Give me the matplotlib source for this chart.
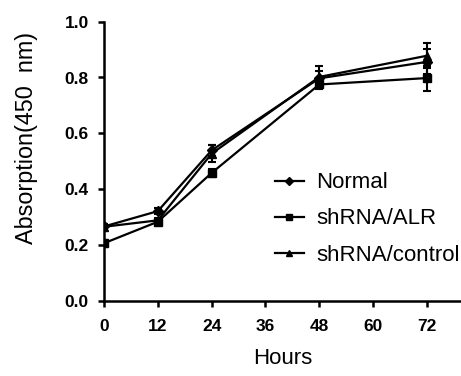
import matplotlib
matplotlib.use("Agg")
import matplotlib.pyplot as plt
from matplotlib.lines import Line2D

hours = [0, 12, 24, 48, 72]
normal = [0.266, 0.321, 0.539, 0.797, 0.856]
normal_err = [0.010, 0.010, 0.020, 0.025, 0.045]
alr = [0.206, 0.283, 0.458, 0.775, 0.798]
alr_err = [0.012, 0.010, 0.015, 0.015, 0.045]
control = [0.265, 0.288, 0.527, 0.802, 0.878]
control_err = [0.010, 0.010, 0.030, 0.040, 0.045]
xticks = [0, 12, 24, 36, 48, 60, 72]
yticks = [0.0, 0.2, 0.4, 0.6, 0.8, 1.0]
names = ["Normal", "shRNA/ALR", "shRNA/control"]

plt.rcParams['font.family'] = ['Liberation Sans', 'DejaVu Sans']

fig = plt.figure(figsize=(4.61, 3.76), dpi=100)
ax = fig.add_axes([104/461, 75.3/376, 357/461, 279/376])

styles = [("D", 5), ("s", 5.5), ("^", 6)]
handles = []
for name, vals, err, (m, ms) in zip(names, [normal, alr, control],
                                    [normal_err, alr_err, control_err], styles):
    ax.errorbar(hours, vals, yerr=err, color="black", lw=1.6, marker=m, ms=ms,
                capsize=3, capthick=1.5, elinewidth=1.5)
    handles.append(Line2D([], [], color="black", lw=1.6, marker=m, ms=4))

ax.set_xlim(0, 79.6)
ax.set_ylim(0, 1.0)
ax.set_xticks(xticks)
ax.set_yticks(yticks)
ax.set_yticklabels([f"{v:.1f}" for v in yticks])
for s in ["top", "right"]:
    ax.spines[s].set_visible(False)
for s in ["left", "bottom"]:
    ax.spines[s].set_linewidth(1.8)
ax.tick_params(direction="out", length=4.5, width=1.8, labelsize=12.5)
ax.tick_params(axis="x", pad=9)
ax.tick_params(axis="y", pad=6.5)
for lab in ax.get_xticklabels() + ax.get_yticklabels():
    lab.set_fontweight("bold")

ax.set_xlabel("Hours", fontsize=16, labelpad=10)
ax.set_ylabel("Absorption(450  nm)", fontsize=16.8)
ax.yaxis.set_label_coords(-0.185, 0.583)

ax.legend(handles, names, loc="center left", bbox_to_anchor=(0.479, 0.293),
          frameon=False, fontsize=16, handlelength=1.3, handletextpad=0.55,
          labelspacing=0.68, borderaxespad=0, borderpad=0)

fig.savefig("out.png", dpi=100)
